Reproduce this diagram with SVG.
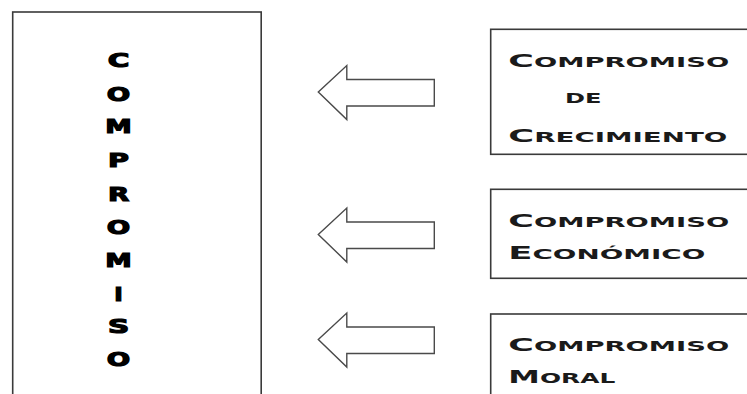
<svg xmlns="http://www.w3.org/2000/svg" width="747" height="394" viewBox="0 0 747 394">
  <style>
    .box { fill: #ffffff; stroke: #3a3a3a; stroke-width: 1.6; }
    .arrow { fill: #ffffff; stroke: #4a4a4a; stroke-width: 1.4; stroke-linejoin: miter; }
    .lbl { font-family: "DejaVu Sans", "Liberation Sans", sans-serif; font-weight: bold; fill: #1a1a1a; }
    .big { font-size: 18.5px; }
    .sc { font-size: 14.5px; }
    .vert { font-family: "DejaVu Sans", "Liberation Sans", sans-serif; font-weight: bold; font-size: 19px; fill: #000000; stroke: #000000; stroke-width: 1.2; stroke-linejoin: miter; text-anchor: middle; }
  </style>
  <defs>
    <path id="leftArrow" class="arrow" d="M0,0 L28.5,-26.5 L28.5,-12.5 L116,-12.5 L116,14 L28.5,14 L28.5,27.5 Z"/>
  </defs>
  <rect width="747" height="394" fill="#ffffff"/>

  <!-- main column box with the vertical word, letters widened by a horizontal scale -->
  <g id="compromiso">
    <rect class="box" x="12.7" y="12" width="248.5" height="400"/>
    <text class="vert" transform="translate(118.5,67) scale(1.55,1)">C</text>
    <text class="vert" transform="translate(118.5,101) scale(1.45,1)">O</text>
    <text class="vert" transform="translate(118.5,132.7) scale(1.4,1)">M</text>
    <text class="vert" transform="translate(118.5,166.5) scale(1.5,1)">P</text>
    <text class="vert" transform="translate(118.5,200.5) scale(1.45,1)">R</text>
    <text class="vert" transform="translate(118.5,234) scale(1.45,1)">O</text>
    <text class="vert" transform="translate(118.5,266.7) scale(1.4,1)">M</text>
    <text class="vert" transform="translate(118.5,300.5) scale(1.2,1)">I</text>
    <text class="vert" transform="translate(118.5,333.3) scale(1.55,1)">S</text>
    <text class="vert" transform="translate(118.5,365.7) scale(1.45,1)">O</text>
  </g>

  <!-- connectors: hollow block arrows pointing left -->
  <g id="connectors">
    <use href="#leftArrow" x="318.3" y="92"/>
    <use href="#leftArrow" x="318.3" y="234.5"/>
    <use href="#leftArrow" x="318.3" y="339.5"/>
  </g>

  <g id="crecimiento">
    <rect class="box" x="490.7" y="29.3" width="270" height="125"/>
    <text class="lbl" x="508.3" y="67" textLength="221" lengthAdjust="spacingAndGlyphs"><tspan class="big">C</tspan><tspan class="sc">OMPROMISO</tspan></text>
    <text class="lbl sc" x="565" y="103.3" textLength="36.5" lengthAdjust="spacingAndGlyphs">DE</text>
    <text class="lbl" x="508.3" y="141.7" textLength="219" lengthAdjust="spacingAndGlyphs"><tspan class="big">C</tspan><tspan class="sc">RECIMIENTO</tspan></text>
  </g>

  <g id="economico">
    <rect class="box" x="490.7" y="189.3" width="270" height="89"/>
    <text class="lbl" x="508.3" y="226.7" textLength="221" lengthAdjust="spacingAndGlyphs"><tspan class="big">C</tspan><tspan class="sc">OMPROMISO</tspan></text>
    <text class="lbl" x="508.3" y="259.3" textLength="197" lengthAdjust="spacingAndGlyphs"><tspan class="big">E</tspan><tspan class="sc">CONÓMICO</tspan></text>
  </g>

  <g id="moral">
    <rect class="box" x="490.7" y="314" width="270" height="100"/>
    <text class="lbl" x="508.3" y="350.5" textLength="221" lengthAdjust="spacingAndGlyphs"><tspan class="big">C</tspan><tspan class="sc">OMPROMISO</tspan></text>
    <text class="lbl" x="508.3" y="382.5" textLength="107" lengthAdjust="spacingAndGlyphs"><tspan class="big">M</tspan><tspan class="sc">ORAL</tspan></text>
  </g>
</svg>
